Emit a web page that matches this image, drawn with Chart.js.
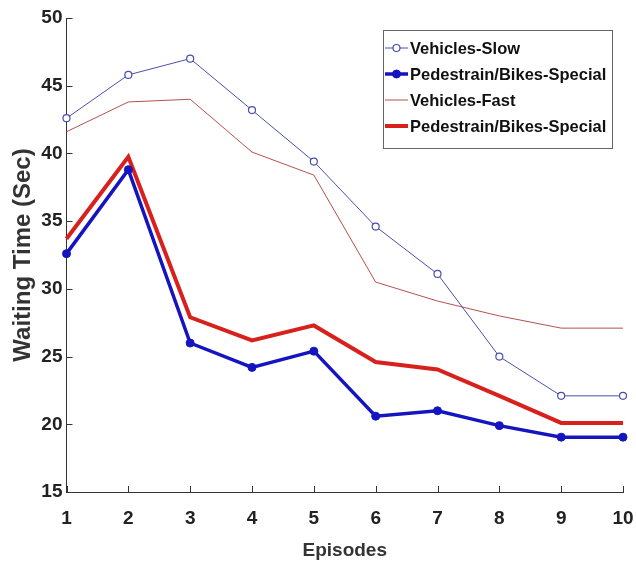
<!DOCTYPE html>
<html>
<head>
<meta charset="utf-8">
<script src="https://cdn.jsdelivr.net/npm/chart.js@4"></script>
<style>
  html, body { margin: 0; padding: 0; background: #fff; }
  #wrap { width: 636px; height: 566px; }
</style>
</head>
<body>
<div id="wrap"><canvas id="chart" width="636" height="566"></canvas></div>
<script>
// data
const episodes = ['1', '2', '3', '4', '5', '6', '7', '8', '9', '10'];
const vehiclesSlow = [42.6, 45.8, 47.0, 43.2, 39.4, 34.6, 31.1, 25.0, 22.1, 22.1];
const pedBikesBlue = [32.6, 38.8, 26.0, 24.2, 25.4, 20.6, 21.0, 19.9, 19.05, 19.05];
const vehiclesFast = [41.6, 43.8, 44.0, 40.1, 38.4, 30.5, 29.1, 28.0, 27.1, 27.1];
const pedBikesRed = [33.7, 39.75, 27.9, 26.2, 27.3, 24.6, 24.05, 22.1, 20.1, 20.1];

const FONT = "'Liberation Sans', Arial, sans-serif";

// small inward tick marks, matlab style
const innerTicks = {
  id: 'innerTicks',
  afterDatasetsDraw(chart) {
    const { ctx, chartArea, scales } = chart;
    ctx.save();
    ctx.strokeStyle = '#333';
    ctx.lineWidth = 1;
    ctx.beginPath();
    scales.x.ticks.forEach((t, i) => {
      const px = Math.round(scales.x.getPixelForTick(i)) + 0.5;
      ctx.moveTo(px, chartArea.bottom);
      ctx.lineTo(px, chartArea.bottom - 6);
    });
    scales.y.ticks.forEach((t, i) => {
      const py = Math.round(scales.y.getPixelForTick(i)) + 0.5;
      ctx.moveTo(chartArea.left, py);
      ctx.lineTo(chartArea.left + 6, py);
    });
    ctx.stroke();
    ctx.restore();
  }
};

// boxed legend inside the plot, top right
const boxLegend = {
  id: 'boxLegend',
  afterDraw(chart) {
    const ctx = chart.ctx;
    const x0 = 383, y0 = 30, w = 229, h = 118;
    const rows = [48, 74, 100, 126];
    ctx.save();
    ctx.fillStyle = '#fff';
    ctx.fillRect(x0, y0, w, h);
    ctx.strokeStyle = '#666';
    ctx.lineWidth = 1;
    ctx.strokeRect(x0 + 0.5, y0 + 0.5, w, h);
    chart.data.datasets.forEach((ds, i) => {
      const y = rows[i];
      ctx.strokeStyle = ds.borderColor;
      ctx.lineWidth = ds.borderWidth;
      ctx.beginPath();
      ctx.moveTo(x0 + 2, y);
      ctx.lineTo(x0 + 25, y);
      ctx.stroke();
      if (ds.pointRadius > 0) {
        ctx.beginPath();
        ctx.arc(x0 + 13.5, y, ds.pointRadius, 0, Math.PI * 2);
        ctx.fillStyle = ds.pointBackgroundColor;
        ctx.fill();
        ctx.lineWidth = ds.pointBorderWidth;
        ctx.strokeStyle = ds.borderColor;
        ctx.stroke();
      }
      ctx.fillStyle = '#111';
      ctx.font = 'bold 16.5px ' + FONT;
      ctx.textBaseline = 'middle';
      ctx.fillText(ds.label, x0 + 27, y + 1);
    });
    ctx.restore();
  }
};

new Chart(document.getElementById('chart'), {
  type: 'line',
  data: {
    labels: episodes,
    datasets: [
      {
        label: 'Vehicles-Slow',
        data: vehiclesSlow,
        borderColor: '#4a4fae',
        borderWidth: 1,
        pointRadius: 3.5,
        pointBorderWidth: 1.2,
        pointBackgroundColor: '#ffffff',
        pointBorderColor: '#4a4fae',
        tension: 0
      },
      {
        label: 'Pedestrain/Bikes-Special',
        data: pedBikesBlue,
        borderColor: '#1414c0',
        borderWidth: 3.5,
        pointRadius: 4,
        pointBorderWidth: 1,
        pointBackgroundColor: '#1414c0',
        pointBorderColor: '#1414c0',
        tension: 0
      },
      {
        label: 'Vehicles-Fast',
        data: vehiclesFast,
        borderColor: '#b8504c',
        borderWidth: 1,
        pointRadius: 0,
        tension: 0
      },
      {
        label: 'Pedestrain/Bikes-Special',
        data: pedBikesRed,
        borderColor: '#d8201c',
        borderWidth: 4,
        pointRadius: 0,
        tension: 0
      }
    ]
  },
  options: {
    responsive: false,
    animation: false,
    layout: { padding: { left: 0, top: 18, right: 13, bottom: 0 } },
    plugins: {
      legend: { display: false },
      tooltip: { enabled: false }
    },
    scales: {
      x: {
        offset: false,
        grid: { display: false, drawTicks: false },
        border: { display: true, color: '#333', width: 1 },
        ticks: { color: '#222', padding: 15, maxRotation: 0, font: { family: FONT, size: 19, weight: 'bold' } },
        title: { display: true, text: 'Episodes', color: '#333', padding: { top: 6, bottom: 4 }, font: { family: FONT, size: 19, weight: 'bold' } },
        afterFit(s) { s.height = 74; s.paddingLeft = 0; s.paddingRight = 0; }
      },
      y: {
        min: 15,
        max: 50,
        grid: { display: false, drawTicks: false },
        border: { display: true, color: '#333', width: 1 },
        ticks: { stepSize: 5, color: '#222', padding: 4, font: { family: FONT, size: 19, weight: 'bold' } },
        title: { display: true, text: 'Waiting Time (Sec)', color: '#333', padding: { top: 9, bottom: 4 }, font: { family: FONT, size: 24, weight: 'bold' } },
        afterFit(s) { s.width = 66.5; s.paddingTop = 0; s.paddingBottom = 0; }
      }
    }
  },
  plugins: [innerTicks, boxLegend]
});
</script>
</body>
</html>
